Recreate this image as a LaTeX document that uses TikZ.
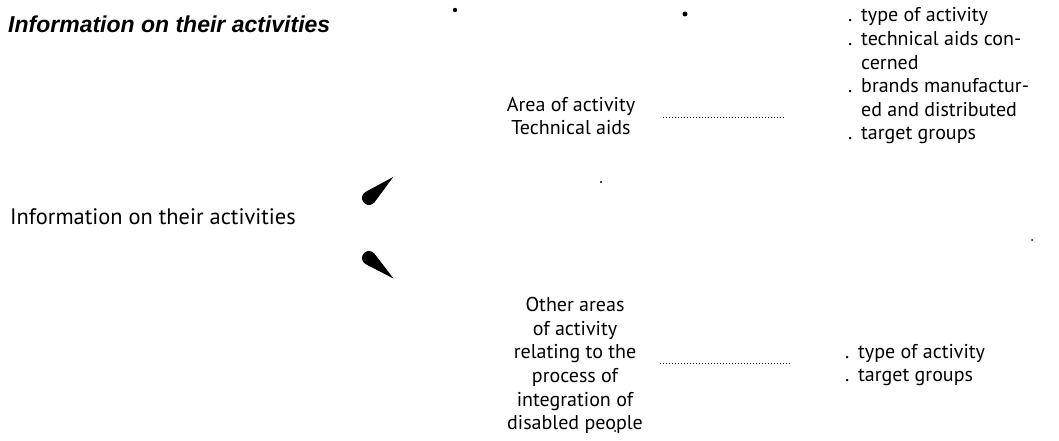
\documentclass[tikz,border=0pt]{standalone}
\usepackage{fontspec}
\setmainfont{PT Sans}
\newfontfamily\titlefont{Liberation Sans}
\tikzset{
  txt/.style={inner sep=0pt, font=\fontsize{20}{23.6}\selectfont},
  ctr/.style={txt, align=center},
  lst/.style={txt, align=left, anchor=west},
  dotline/.style={line width=1pt, dash pattern=on 0.9pt off 2.1pt},
  speck/.style={fill=black},
}
\newcommand{\bl}{\makebox[13pt][l]{.}}
\newcommand{\ind}{\hspace*{13pt}}
\begin{document}
\begin{tikzpicture}[x=1pt,y=-1pt]
\useasboundingbox (0,0) rectangle (1059,441);
% titles
\node[txt, anchor=west, font=\titlefont\fontsize{23}{24}\selectfont\bfseries\itshape] (t1) at (8,24) {Information on their activities};
\node[txt, anchor=west, font=\fontsize{22.4}{24}\selectfont] (t2) at (10,217) {Information on their activities};
% middle blocks
\node[ctr] (a1) at (571,116) {Area of activity\\Technical aids};
\node[ctr] (a2) at (575,365.5) {Other areas\\of activity\\relating to the\\process of\\integration of\\disabled people};
% right lists
\node[lst] (l1) at (848,76) {\bl type of activity\\\bl technical aids con-\\\ind cerned\\\bl brands manufactur-\\\ind ed and distributed\\\bl target groups};
\node[lst] (l2) at (845,365) {\bl type of activity\\\bl target groups};
% dotted leaders
\coordinate (d1s) at (663,118); \coordinate (d1e) at (785,118);
\coordinate (d2s) at (660,363); \coordinate (d2e) at (790,363);
\draw[dotline] (d1s) -- (d1e);
\draw[dotline] (d2s) -- (d2e);
% teardrop marks
\begin{scope}[shift={(369,198)}, rotate=41]
  \fill (32,0) -- (77:7) arc[start angle=77, end angle=283, radius=7] -- cycle;
\end{scope}
\begin{scope}[shift={(369,258)}, rotate=-40]
  \fill (32,0) -- (77:7) arc[start angle=77, end angle=283, radius=7] -- cycle;
\end{scope}
% specks
\fill[speck] (455,10) circle (2.2);
\fill[speck] (685,14) circle (2.5);
\fill[speck] (601,182) circle (1.2);
\fill[speck] (1032,240) circle (1);
\fill[speck] (615,431) circle (1);
\end{tikzpicture}
\end{document}
